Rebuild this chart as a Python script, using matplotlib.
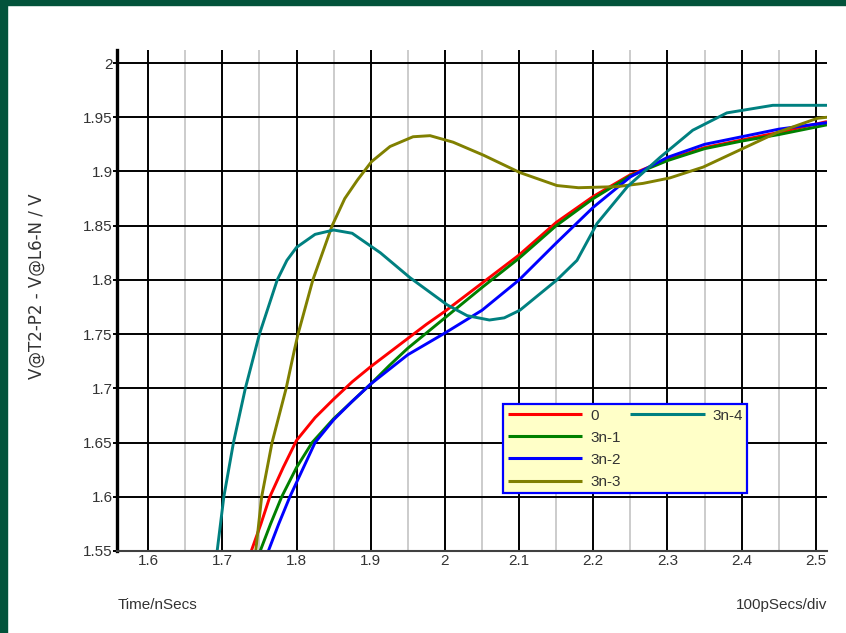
import matplotlib.pyplot as plt
from matplotlib.patches import Rectangle
from matplotlib.lines import Line2D

# ==============================
# DADOS (tempo em ns, tensão em V)
# ==============================

t_0 = [1.739, 1.752, 1.764, 1.782, 1.80, 1.825, 1.85, 1.875, 1.9, 1.925, 1.95, 1.975,
       2.0, 2.05, 2.1, 2.15, 2.2, 2.25, 2.3, 2.35, 2.4, 2.45, 2.515]
v_0 = [1.55, 1.575, 1.60, 1.627, 1.652, 1.673, 1.69, 1.706, 1.72, 1.733, 1.746, 1.759,
       1.771, 1.797, 1.823, 1.853, 1.877, 1.897, 1.911, 1.922, 1.929, 1.936, 1.946]

t_3n1 = [1.751, 1.765, 1.78, 1.80, 1.821, 1.85, 1.875, 1.9, 1.925, 1.95, 1.975, 2.0,
         2.05, 2.1, 2.15, 2.2, 2.25, 2.3, 2.35, 2.4, 2.45, 2.515]
v_3n1 = [1.55, 1.575, 1.60, 1.627, 1.65, 1.672, 1.688, 1.704, 1.721, 1.737, 1.751, 1.765,
         1.793, 1.82, 1.85, 1.875, 1.896, 1.91, 1.921, 1.928, 1.934, 1.943]

t_3n2 = [1.762, 1.776, 1.791, 1.808, 1.825, 1.85, 1.875, 1.9, 1.95, 2.0, 2.05, 2.1,
         2.15, 2.2, 2.25, 2.3, 2.35, 2.4, 2.45, 2.515]
v_3n2 = [1.55, 1.575, 1.60, 1.625, 1.65, 1.671, 1.688, 1.704, 1.731, 1.751, 1.772, 1.80,
         1.834, 1.867, 1.895, 1.913, 1.925, 1.932, 1.939, 1.945]

t_3n3 = [1.745, 1.753, 1.767, 1.786, 1.797, 1.802, 1.822, 1.848, 1.865, 1.882, 1.901,
         1.926, 1.957, 1.98, 2.011, 2.052, 2.101, 2.151, 2.18, 2.232, 2.267, 2.303,
         2.348, 2.398, 2.448, 2.502, 2.515]
v_3n3 = [1.55, 1.60, 1.65, 1.70, 1.735, 1.75, 1.80, 1.85, 1.875, 1.892, 1.909,
         1.923, 1.932, 1.933, 1.927, 1.915, 1.899, 1.887, 1.885, 1.886, 1.889, 1.894,
         1.904, 1.92, 1.936, 1.949, 1.95]

t_3n4 = [1.693, 1.702, 1.715, 1.731, 1.75, 1.774, 1.787, 1.80, 1.825, 1.85, 1.875,
         1.913, 1.953, 2.003, 2.03, 2.06, 2.08, 2.101, 2.151, 2.178, 2.205, 2.246,
         2.29, 2.334, 2.38, 2.442, 2.515]
v_3n4 = [1.55, 1.60, 1.65, 1.70, 1.75, 1.80, 1.818, 1.83, 1.842, 1.846, 1.843,
         1.825, 1.802, 1.777, 1.767, 1.763, 1.765, 1.772, 1.80, 1.818, 1.852, 1.886,
         1.913, 1.938, 1.954, 1.961, 1.961]

series = [
    ("0", t_0, v_0, "#ff0000"),
    ("3n-1", t_3n1, v_3n1, "#008000"),
    ("3n-2", t_3n2, v_3n2, "#0000ff"),
    ("3n-3", t_3n3, v_3n3, "#808000"),
    ("3n-4", t_3n4, v_3n4, "#008080"),
]

x_major = [1.6, 1.7, 1.8, 1.9, 2.0, 2.1, 2.2, 2.3, 2.4, 2.5]
x_minor = [1.65, 1.75, 1.85, 1.95, 2.05, 2.15, 2.25, 2.35, 2.45]
y_ticks = [1.55, 1.6, 1.65, 1.7, 1.75, 1.8, 1.85, 1.9, 1.95, 2.0]

# ==============================
# FIGURA
# ==============================

plt.rcParams['font.family'] = ['Liberation Sans', 'DejaVu Sans']
txt_color = "#333333"

W, H = 846, 633
fig = plt.figure(figsize=(W / 100, H / 100), dpi=100)
fig.patch.set_facecolor("white")

# moldura verde (esquerda e topo)
borda = "#02533b"
fig.patches.append(Rectangle((0, 0), 7 / W, 1, transform=fig.transFigure,
                             color=borda, zorder=0))
fig.patches.append(Rectangle((0, 1 - 5 / H), 1, 5 / H, transform=fig.transFigure,
                             color=borda, zorder=0))

ax = fig.add_axes([117 / W, 1 - 551 / H, (827 - 117) / W, (551 - 50) / H])
ax.set_xlim(1.558, 2.515)
ax.set_ylim(1.55, 2.012)

for nome, t, v, cor in series:
    ax.plot(t, v, color=cor, lw=2.1, label=nome, solid_capstyle="butt")

# grade
ax.set_xticks(x_major)
ax.set_xticks(x_minor, minor=True)
ax.set_yticks(y_ticks)
ax.set_xticklabels([f"{x:g}" for x in x_major])
ax.set_yticklabels([f"{y:g}" for y in y_ticks])
ax.grid(True, which="major", axis="x", color="black", lw=1.4)
ax.grid(True, which="minor", axis="x", color="#cccccc", lw=1.4)
ax.grid(True, which="major", axis="y", color="black", lw=1.4)
ax.set_axisbelow(True)

for s in ["top", "right"]:
    ax.spines[s].set_visible(False)
ax.spines["left"].set_linewidth(2.4)
ax.spines["left"].set_color("black")
ax.spines["bottom"].set_linewidth(1.5)
ax.spines["bottom"].set_color("#404040")

ax.tick_params(axis="x", which="both", length=0, pad=2, labelsize=11, labelcolor=txt_color)
ax.tick_params(axis="y", length=3, width=1.4, color="black", pad=0,
               labelsize=11, labelcolor=txt_color)

# legenda em duas colunas (4 + 1)
handles, labels = ax.get_legend_handles_labels()
vazio = Line2D([], [], color="none")
handles = handles[:4] + [handles[4], vazio, vazio, vazio]
labels = labels[:4] + [labels[4], "", "", ""]
leg = ax.legend(handles, labels, ncol=2, loc="upper left",
                bbox_to_anchor=(503 / W, 1 - 404 / H), bbox_transform=fig.transFigure,
                fontsize=11, frameon=True, fancybox=False, framealpha=1,
                borderaxespad=0, borderpad=0.3, handlelength=4.9, handletextpad=0.5,
                columnspacing=0.6, labelspacing=0.53)
leg.get_frame().set_facecolor("#ffffc8")
leg.get_frame().set_edgecolor("#0000ff")
leg.get_frame().set_linewidth(1.6)
for txt in leg.get_texts():
    txt.set_color(txt_color)
for ln in leg.get_lines():
    ln.set_linewidth(2.2)

# rótulos
fig.text(37 / W, 1 - 286 / H, "V@T2-P2 - V@L6-N / V", rotation=90,
         ha="center", va="center", fontsize=12, color=txt_color, family="DejaVu Sans")
fig.text(118 / W, 1 - 605 / H, "Time/nSecs", ha="left", va="center",
         fontsize=11, color=txt_color)
fig.text(827 / W, 1 - 605 / H, "100pSecs/div", ha="right", va="center",
         fontsize=11, color=txt_color)

plt.savefig("out.png", dpi=100)
plt.close()
